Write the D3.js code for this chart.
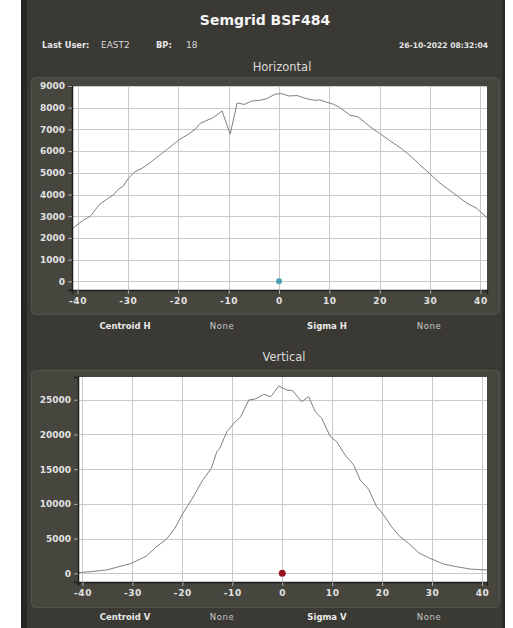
<!DOCTYPE html>
<html>
<head>
<meta charset="utf-8">
<script src="https://cdn.jsdelivr.net/npm/d3@7"></script>
<style>
body { margin: 0; background: #fff; }
svg { display: block; }
text { font-family: "DejaVu Sans", sans-serif; }
</style>
</head>
<body>
<svg id="chart" width="513" height="628"></svg>
<script>
// horizontal profile (position mm, counts)
var hX = [-41.1, -40.1, -38.8, -37.5, -36.5, -35.5, -34.2, -32.9, -31.9, -30.9, -29.9, -28.6, -27.2, -25.6,
  -24.3, -22.6, -22.0, -19.9, -18.0, -16.6, -15.7, -14.3, -13.0, -11.3, -9.7, -8.3, -6.9, -5.4, -3.8, -2.4,
  -0.8, 0.5, 2.0, 3.6, 5.4, 7.1, 8.1, 9.5, 10.8, 12.1, 14.1, 15.7, 18.1, 20.0, 22.0, 24.3, 26.3, 28.0,
  30.0, 31.6, 33.3, 35.6, 37.3, 39.2, 41.3];
var hY = [2400, 2600, 2830, 2990, 3290, 3570, 3780, 3980, 4240, 4390, 4750, 5050, 5210, 5460,
  5710, 6010, 6120, 6510, 6780, 7010, 7270, 7420, 7550, 7850, 6780, 8220, 8150, 8310, 8340, 8420,
  8620, 8650, 8540, 8560, 8420, 8340, 8360, 8250, 8160, 8010, 7650, 7580, 7120, 6810, 6480, 6120, 5740, 5360,
  4950, 4590, 4290, 3900, 3600, 3370, 2930];

// vertical profile
var vX = [-40.9, -38.5, -35.2, -33.2, -30.2, -27.2, -25.2, -23.2, -21.5, -19.9, -18.2, -15.9, -14.2, -13.1,
  -12.5, -11.1, -9.7, -8.3, -6.7, -5.4, -3.7, -2.3, -0.7, 0.9, 2.1, 3.9, 5.3, 6.6, 7.9, 9.6, 10.9, 12.6,
  14.3, 15.6, 17.3, 18.9, 20.3, 21.9, 23.6, 25.3, 27.3, 29.3, 32.3, 34.9, 37.6, 41.0];
var vY = [100, 230, 475, 860, 1440, 2490, 3830, 4900, 6480, 8640, 10560, 13440, 15120, 17510,
  18000, 20390, 21600, 22550, 24960, 25100, 25780, 25430, 26970, 26400, 26300, 24710, 25430, 23270, 22320, 19720, 18950, 17040,
  15600, 13440, 12100, 9590, 8400, 6710, 5270, 4320, 2970, 2250, 1340, 950, 620, 470];

var xTicks = [-40, -30, -20, -10, 0, 10, 20, 30, 40];
var xTickLabels = ["-40", "-30", "-20", "-10", "0", "10", "20", "30", "40"];
var hYTicks = [0, 1000, 2000, 3000, 4000, 5000, 6000, 7000, 8000, 9000];
var vYTicks = [0, 5000, 10000, 15000, 20000, 25000];

var hStats = ["Centroid H", "None", "Sigma H", "None"];
var vStats = ["Centroid V", "None", "Sigma V", "None"];
var hMarker = [0, 0];
var vMarker = [0, 0];

var svg = d3.select('#chart');

// frame
svg.append('rect').attr('x', 21).attr('y', 0).attr('width', 484).attr('height', 628).attr('fill', '#3a3934');
svg.append('rect').attr('x', 21).attr('y', 0).attr('width', 6).attr('height', 628).attr('fill', '#282724');
svg.append('rect').attr('x', 502).attr('y', 0).attr('width', 3).attr('height', 628).attr('fill', '#2c2b28');

// header
svg.append('text').attr('x', 265).attr('y', 25).attr('text-anchor', 'middle')
  .attr('font-size', 14).attr('font-weight', 'bold').attr('fill', '#f4f4f4').text('Semgrid BSF484');

var header = svg.append('g').attr('font-size', 8.3).attr('fill', '#e6e6e6');
header.append('text').attr('x', 42).attr('y', 48).attr('font-weight', 'bold').text('Last User:');
header.append('text').attr('x', 101).attr('y', 48).attr('font-size', 9).attr('fill', '#d8d8d8').text('EAST2');
header.append('text').attr('x', 156).attr('y', 48).attr('font-weight', 'bold').text('BP:');
header.append('text').attr('x', 186).attr('y', 48).attr('font-size', 9).attr('fill', '#d8d8d8').text('18');
header.append('text').attr('x', 488).attr('y', 48).attr('text-anchor', 'end').attr('font-weight', 'bold')
  .attr('font-size', 7.6).text('26-10-2022 08:32:04');

function drawPlot(cfg) {
  var g = svg.append('g');

  g.append('text').attr('x', cfg.titleX).attr('y', cfg.titleY).attr('text-anchor', 'middle')
    .attr('font-size', 11.5).attr('fill', '#dcdcdc').text(cfg.title);

  g.append('rect').attr('x', 31.5).attr('y', cfg.panel[0] + 0.5).attr('width', 468)
    .attr('height', cfg.panel[1] - cfg.panel[0]).attr('rx', 4)
    .attr('fill', '#46453e').attr('stroke', '#53524b');

  var x = d3.scaleLinear().domain(cfg.xDomain).range([cfg.left, cfg.right]);
  var y = d3.scaleLinear().domain(cfg.yDomain).range([cfg.bottom, cfg.top]);

  g.append('rect').attr('x', cfg.left).attr('y', cfg.top)
    .attr('width', cfg.right - cfg.left).attr('height', cfg.bottom - cfg.top).attr('fill', '#fff');

  // grid
  g.append('g').selectAll('line.gx').data(xTicks).join('line')
    .attr('x1', d => Math.round(x(d)) + 0.5).attr('x2', d => Math.round(x(d)) + 0.5)
    .attr('y1', cfg.top).attr('y2', cfg.bottom).attr('stroke', '#cacaca');
  g.append('g').selectAll('line.gy').data(cfg.yTicks).join('line')
    .attr('y1', d => Math.round(y(d)) + 0.5).attr('y2', d => Math.round(y(d)) + 0.5)
    .attr('x1', cfg.left).attr('x2', cfg.right).attr('stroke', '#cacaca');

  // profile
  var line = d3.line().x(d => x(d[0])).y(d => y(d[1]));
  g.append('path').datum(d3.zip(cfg.xs, cfg.ys)).attr('d', line)
    .attr('fill', 'none').attr('stroke', '#808080').attr('stroke-width', 1);

  g.append('circle').attr('cx', x(cfg.marker[0])).attr('cy', y(cfg.marker[1]))
    .attr('r', cfg.markerR).attr('fill', cfg.markerColor);

  // axes
  var xAxis = d3.axisBottom(x).tickValues(xTicks).tickSize(4).tickPadding(4)
    .tickFormat((d, i) => xTickLabels[i]);
  var ax = g.append('g').attr('transform', 'translate(0,' + cfg.bottom + ')').call(xAxis);
  var yAxis = d3.axisLeft(y).tickValues(cfg.yTicks).tickSize(4).tickPadding(3)
    .tickFormat(d3.format('d'));
  var ay = g.append('g').attr('transform', 'translate(' + cfg.left + ',0)').call(yAxis);
  [ax, ay].forEach(function(a) {
    a.select('.domain').attr('stroke', '#1e1e1c').attr('stroke-width', 1.5);
    a.selectAll('.tick line').attr('stroke', '#a8a8a8');
    a.selectAll('.tick text').attr('fill', '#e2e2e2').attr('font-size', 9)
      .attr('font-weight', 'bold').attr('font-family', '"DejaVu Sans", sans-serif');
  });
  ax.selectAll('.tick text').attr('letter-spacing', 0.6);

  // stats row
  var statX = [125, 222, 327, 429];
  g.append('g').selectAll('text').data(cfg.stats).join('text')
    .attr('x', (d, i) => statX[i]).attr('y', cfg.statY).attr('text-anchor', 'middle')
    .attr('font-size', 8.5)
    .attr('font-weight', (d, i) => i % 2 ? 'normal' : 'bold')
    .attr('letter-spacing', (d, i) => i % 2 ? 0.6 : 0)
    .attr('fill', (d, i) => i % 2 ? '#c8c8c8' : '#e8e8e8')
    .text(d => d);
}

drawPlot({
  title: 'Horizontal', titleX: 282, titleY: 71,
  panel: [77, 314],
  left: 72, right: 487, top: 86, bottom: 290,
  xDomain: [-41.1, 41.3], yDomain: [-400, 9000], yTicks: hYTicks,
  xs: hX, ys: hY,
  marker: hMarker, markerR: 3, markerColor: '#4c9fb4',
  stats: hStats, statY: 329
});

drawPlot({
  title: 'Vertical', titleX: 284, titleY: 361,
  panel: [370, 607],
  left: 78, right: 487, top: 377, bottom: 582,
  xDomain: [-40.9, 41.0], yDomain: [-1250, 28270], yTicks: vYTicks,
  xs: vX, ys: vY,
  marker: vMarker, markerR: 3.5, markerColor: '#9a1420',
  stats: vStats, statY: 620
});
</script>
</body>
</html>
